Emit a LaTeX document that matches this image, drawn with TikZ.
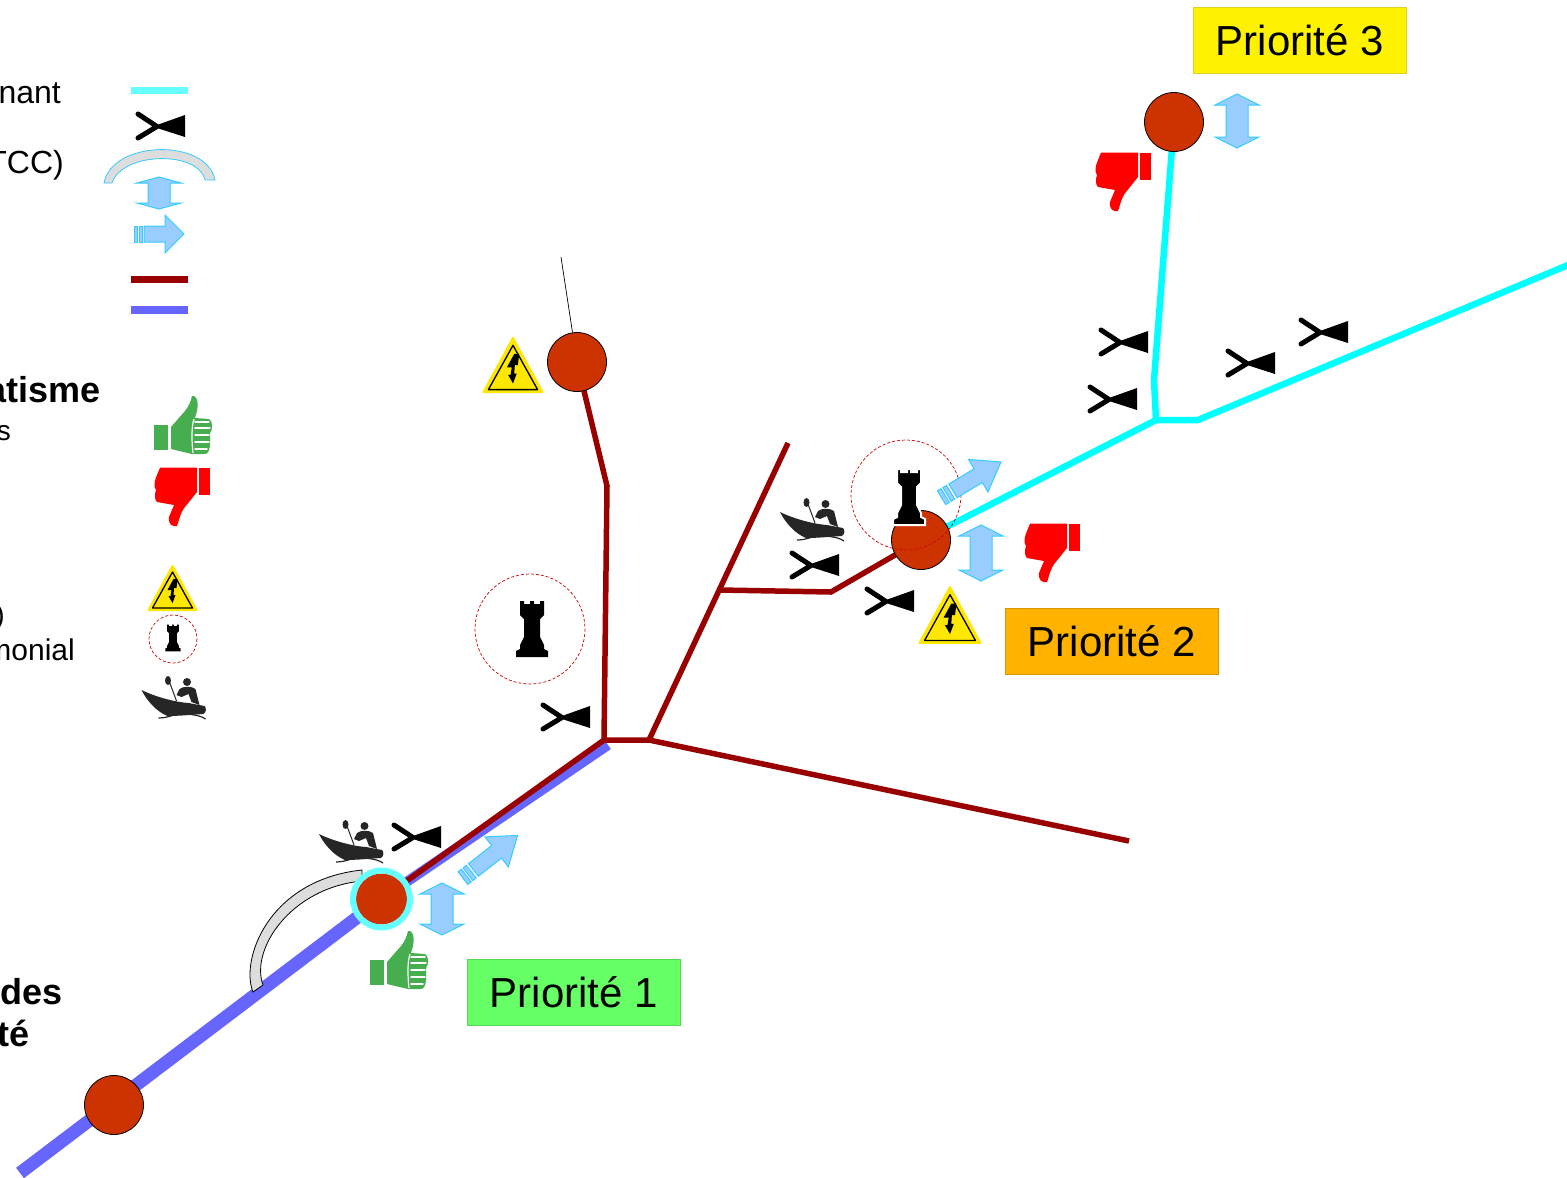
\documentclass[tikz,border=0pt]{standalone}
\usepackage{fontspec}
\setmainfont{Liberation Sans}
\definecolor{nodered}{HTML}{CC3300}
\definecolor{darkred}{HTML}{990000}
\definecolor{bluevio}{HTML}{6666FF}
\definecolor{lcyan}{HTML}{66FFFF}
\definecolor{acyan}{HTML}{00FFFF}
\definecolor{arrfill}{HTML}{99CCFF}
\definecolor{arrline}{HTML}{33CCFF}
\definecolor{thumbg}{HTML}{46AE4F}
\definecolor{arcgrey}{HTML}{DDDDDD}
\pgfdeclarelayer{lines}
\pgfsetlayers{lines,main}
\tikzset{
  x=1pt,y=-1pt,
  site/.style={circle,draw=black,line width=0.8pt,fill=nodered,minimum size=59pt,inner sep=0pt},
  prio/.style={draw=#1!85!black,line width=0.5pt,fill=#1,minimum width=213pt,minimum height=66pt,inner sep=0pt,font=\fontsize{42}{48}\selectfont},
  legtext/.style={anchor=base east,inner sep=0pt,font=\fontsize{32}{36}\selectfont},
  legbold/.style={anchor=base east,inner sep=0pt,font=\fontsize{36}{40}\selectfont\bfseries},
  redline/.style={draw=darkred,line width=5.5pt,line join=miter},
  cyanline/.style={draw=acyan,line width=6.5pt,line join=miter},
  arrowshape/.style={fill=arrfill,draw=arrline,line width=1pt,line join=miter},
  heritage/.style={draw=red!80!black,densely dashed,line width=0.7pt},
  fishicon/.pic={
    \fill[black] (-3,-1) -- (25,-11) -- (25,11) -- (-3,2) -- cycle;
    \draw[black,line width=5pt,line cap=round,line join=round] (-22,-12) -- (-3,0.5) -- (-22,12);
  },
  thumbup/.pic={
    \fill[thumbg] (-27.7,0) rectangle (-14,25);
    \fill[thumbg] (-11,2) -- (3,-14) .. controls (7,-19) and (9,-24) .. (10,-29)
      .. controls (14,-30) and (17,-25) .. (15,-14) -- (13,-7) -- (27,-6)
      .. controls (31,-4) and (31,5) .. (28,8) -- (28,20) .. controls (27,27) and (26,29) .. (22,29)
      -- (10,29) -- (-11,24) -- cycle;
    \draw[white,line width=1.4pt,line cap=round] (13,-3) -- (27,-3) (13,3) -- (28,3) (13,10) -- (27,10) (13,17) -- (27,17) (13,24) -- (25,24);
    \draw[white,line width=1.2pt] (12,-6) .. controls (9,2) and (10,20) .. (11,28);
  },
  thumbdown/.pic={
    \fill[red] (17.3,-29.3) rectangle (28.3,-2);
    \fill[red] (-22,-29.3) -- (15,-29.3) -- (15,-5) -- (3,10) .. controls (-2,16) and (-3,24) .. (-5,29)
      .. controls (-10,30) and (-14,27) .. (-13,20) -- (-8,8) -- (-25,5)
      .. controls (-27,3) and (-28,-1) .. (-26,-7) .. controls (-29,-10) and (-27,-18) .. (-25,-22) -- cycle;
  },
  warnicon/.pic={
    \fill[yellow!90!orange,draw=yellow!90!orange,line width=2pt,line join=round] (0,-22) -- (24,22) -- (-24,22) -- cycle;
    \draw[black,line width=1.3pt,line join=round] (0,-16) -- (20,20) -- (-20,20) -- cycle;
    \fill[black] (1,-9) -- (-5,2) -- (-1,2) -- (-2,8) -- (-4,8) -- (0,15) -- (3,7) -- (1,7) -- (1.5,0) -- (4,0) -- (5,-9) -- cycle;
  },
  toweric/.pic={
    \path[pic actions] (-12,-28) -- (-8,-28) -- (-8,-25) -- (-2,-25) -- (-2,-28) -- (2,-28) -- (2,-25) -- (8,-25) -- (8,-28) -- (12,-28)
      -- (12,-14) -- (8,-10) -- (8,8) -- (12,16) -- (12,20) -- (16,22) -- (16,28) -- (-16,28) -- (-16,22) -- (-12,20) -- (-12,16)
      -- (-8,8) -- (-8,-10) -- (-12,-14) -- cycle;
  },
  kayakicon/.pic={
    \fill[black!85] (-32,-8) .. controls (-20,-2) and (0,4) .. (15,5) -- (31,8)
      .. controls (33,10) and (33,14) .. (30,16) .. controls (15,17) and (5,18) .. (-6,18)
      .. controls (-16,14) and (-26,4) .. (-32,-8) -- cycle;
    \fill[black!85] (13.5,-16) circle (4);
    \fill[black!85] (3,-3) -- (6,-9) .. controls (10,-12) and (18,-12) .. (22,-9) -- (26,7) -- (18,4) -- (15,-4) -- (8,-1) -- cycle;
    \draw[black!85,line width=1pt] (-4,-16) -- (3,3);
    \fill[black!85] (-5.5,-17.5) ellipse (3 and 4.5);
    \draw[black!85,line width=1.2pt] (-15,20) .. controls (-3,20) and (3,14) .. (14,16) .. controls (22,17) and (28,18) .. (32,21);
  },
  pointarrow/.pic={
    \path[arrowshape] (-15,-8) -- (6,-8) -- (6,-19) -- (25,0) -- (6,19) -- (6,8) -- (-15,8) -- cycle;
    \path[arrowshape] (-24.5,-8) rectangle (-21.5,8);
    \path[arrowshape] (-20,-8) rectangle (-17,8);
  },
}
\newcommand{\dblarrow}[4]{% cx cy half-height head
  \path[arrowshape] (#1,#2-#3) -- (#1+22,#2-#3+#4) -- (#1+11,#2-#3+#4) -- (#1+11,#2+#3-#4) -- (#1+22,#2+#3-#4)
    -- (#1,#2+#3) -- (#1-22,#2+#3-#4) -- (#1-11,#2+#3-#4) -- (#1-11,#2-#3+#4) -- (#1-22,#2-#3+#4) -- cycle;}
\begin{document}
\begin{tikzpicture}
\useasboundingbox (0,0) rectangle (1567,1178);
\clip (0,0) rectangle (1567,1178);
\begin{pgfonlayer}{lines}
  \fill[white] (0,0) rectangle (1567,1178);
\end{pgfonlayer}

% way points
\coordinate (bstart) at (20,1173);
\coordinate (bend) at (608,745);
\coordinate (hub) at (604,740);
\coordinate (hub2) at (649,740);
\coordinate (rA) at (607,486);
\coordinate (rE) at (1129,841);
\coordinate (rN) at (788,443);
\coordinate (rB) at (720,590);
\coordinate (rC) at (831,592);
\coordinate (cJ) at (1156,420);
\coordinate (cK) at (1198,420);
\coordinate (cE) at (1580,260);
\coordinate (cU) at (1154,380);
\coordinate (tF) at (561,257);

% sites
\node[site] (s0) at (114,1105) {};
\node[site,draw=none,minimum size=51pt] (s1) at (381.5,899) {};
\node[site] (s2) at (921,540) {};
\node[site] (s3) at (577,362) {};
\node[site] (s4) at (1174,122) {};

% connectors
\begin{pgfonlayer}{lines}
  \draw[bluevio,line width=13pt] (bstart) -- (s1.center);
  \draw[bluevio,line width=10pt] (s1.center) -- (bend);
  \draw[black,line width=0.7pt] (tF) -- (s3);
  \draw[redline] (s1.center) -- (hub) -- (hub2) -- (rE);
  \draw[redline] (s3.center) -- (rA) -- (hub);
  \draw[redline] (hub2) -- (rN);
  \draw[redline] (rB) -- (rC) -- (s2.center);
  \draw[cyanline] (s2.center) -- (cJ) -- (cK) -- (cE);
  \draw[cyanline] (cJ) -- (cU) -- (s4.center);
  % by-pass arc
  \draw[black,fill=arcgrey,line width=0.8pt] (253,992) .. controls (240,960) and (268,880) .. (362,870)
     -- (362,881) .. controls (290,888) and (250,950) .. (263,985) -- cycle;
\end{pgfonlayer}
\draw[lcyan,line width=6pt] (s1) circle (28.5);

% priority boxes
\node[prio=yellow] (p3) at (1300,40) {Priorité 3};
\node[prio={orange!60!yellow}] (p2) at (1112,641.5) {Priorité 2};
\node[prio={green!60!white}] (p1) at (574,992.5) {Priorité 1};

% legend text (runs off the page on the left)
\node[legtext] (t1) at (61,103) {nant};
\node[legtext] (t2) at (64,173) {TCC)};
\node[legbold] (t3) at (101,402) {atisme};
\node[legtext,font=\fontsize{28}{32}\selectfont] (t4) at (11,440) {s};
\node[legtext,font=\fontsize{28}{32}\selectfont] (t5) at (5,624) {)};
\node[legtext,font=\fontsize{30}{34}\selectfont] (t6) at (75,660) {monial};
\node[legbold] (t7) at (63,1004) {des};
\node[legbold] (t8) at (30,1046) {té};

% legend symbols
\draw[lcyan,line width=7pt] (131,90) -- (188,90);
\draw[darkred,line width=7pt] (131,279) -- (188,279);
\draw[bluevio,line width=7.5pt] (131,310) -- (188,310);
\draw[arrline,fill=arcgrey,line width=0.8pt] (104,183) .. controls (112,140) and (207,138) .. (215,180)
  -- (205,180) .. controls (198,150) and (122,152) .. (112,183) -- cycle;
\dblarrow{159}{193}{16}{6}
\pic at (159,234) {pointarrow};

% fish symbols
\foreach \fx/\fy in {160/126,1123/342,1112/399,1250/363,1323/332,814/565,889/601,565/717,416/837}
  \pic at (\fx,\fy) {fishicon};

% thumbs
\pic at (182,425) {thumbup};
\pic at (398,960) {thumbup};
\pic at (182,497) {thumbdown};
\pic at (1052,553) {thumbdown};
\pic at (1123,182) {thumbdown};

% warnings
\pic at (172.5,588) {warnicon};
\pic[scale=1.23] at (513,365) {warnicon};
\pic[scale=1.27] at (950,615) {warnicon};

% heritage
\draw[heritage] (173,639) circle (24);
\pic[fill=black,scale=0.48] at (173,638) {toweric};
\draw[heritage] (530,629) circle (55);
\pic[fill=black] at (532,629) {toweric};
\pic[fill=black,draw=white,line width=2pt] at (909,497) {toweric};
\draw[heritage] (906,495) circle (55);

% kayaks
\pic at (173.5,698) {kayakicon};
\pic at (351,842) {kayakicon};
\pic at (812,520) {kayakicon};

% arrows near sites
\dblarrow{442}{909}{26}{11}
\dblarrow{981}{553}{28}{11}
\dblarrow{1237}{121}{27}{11}
\pic[rotate=38,xscale=1.4] at (490,857) {pointarrow};
\pic[rotate=31,xscale=1.4] at (971,480) {pointarrow};
\end{tikzpicture}
\end{document}
